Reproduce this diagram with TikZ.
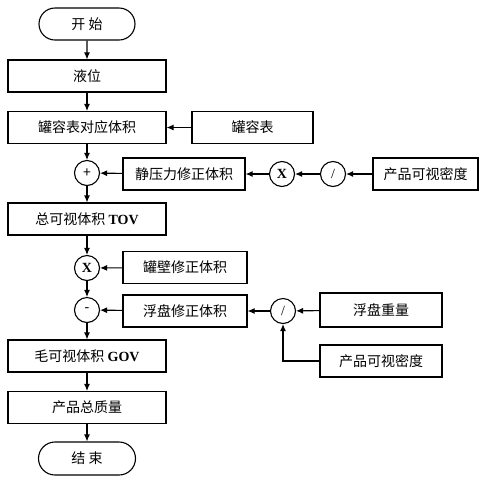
\documentclass[tikz,border=0pt]{standalone}
\usepackage{fontspec}
\setmainfont{Liberation Serif}
\newfontfamily\cjk{Noto Sans CJK SC}
\usetikzlibrary{arrows.meta,shapes.misc}
\begin{document}
\begin{tikzpicture}[x=1pt,y=-1pt,line width=1.1pt,
    font=\fontsize{14}{16}\selectfont\cjk,
    box/.style={draw,rectangle,minimum width=158pt,minimum height=32pt,inner sep=0pt},
    side/.style={draw,rectangle,minimum width=#1,minimum height=32pt,inner sep=0pt},
    term/.style={draw,rounded rectangle,minimum width=96pt,minimum height=32pt,inner sep=0pt},
    op/.style={draw,circle,minimum size=25pt,inner sep=0pt}]
      \useasboundingbox (0,0) rectangle (500,483);
      \draw
        (87,24) node[term] (0){开\ 始}
        (87,76) node[box] (1){液位}
        (87,127.5) node[box] (2){罐容表对应体积}
        (252.5,127.5) node[side=121pt] (3){罐容表}
        (87,173) node[op] (4){+}
        (184,174) node[side=122pt] (5){静压力修正体积}
        (282,174) node[op] (6){\rmfamily\bfseries X}
        (333,174) node[op] (7){\rmfamily /}
        (425.5,174) node[side=105pt] (8){产品可视密度}
        (87,219) node[box] (9){总可视体积 \rmfamily\bfseries TOV}
        (87,268) node[op] (10){\rmfamily\bfseries X}
        (185,267.5) node[side=124pt] (11){罐壁修正体积}
        (87,310) node[op] (12){\rmfamily -}
        (185,311) node[side=124pt] (13){浮盘修正体积}
        (283,311) node[op] (14){\rmfamily /}
        (381,310) node[side=122pt,minimum height=34pt] (15){浮盘重量}
        (381,361) node[side=122pt] (16){产品可视密度}
        (87,356) node[box] (17){毛可视体积 \rmfamily\bfseries GOV}
        (87,407.5) node[box] (18){产品总质量}
        (87,458.5) node[term,minimum width=97pt,minimum height=33pt] (19){结\ 束};
      \begin{scope}[-{Latex[length=7pt,width=6pt]}]
        \draw (0) to (1);
        \draw (1) to (2);
        \draw (3) to (2);
        \draw (2) to (4);
        \draw (5) to (4);
        \draw (6) to (5);
        \draw (7) to (6);
        \draw (8) to (7);
        \draw (4) to (9);
        \draw (9) to (10);
        \draw (11) to (10);
        \draw (10) to (12);
        \draw (13) to (12);
        \draw (14) to (13);
        \draw (15) to (14);
        \draw (16) -| (14);
        \draw (12) to (17);
        \draw (17) to (18);
        \draw (18) to (19);
      \end{scope}
    \end{tikzpicture}
\end{document}
